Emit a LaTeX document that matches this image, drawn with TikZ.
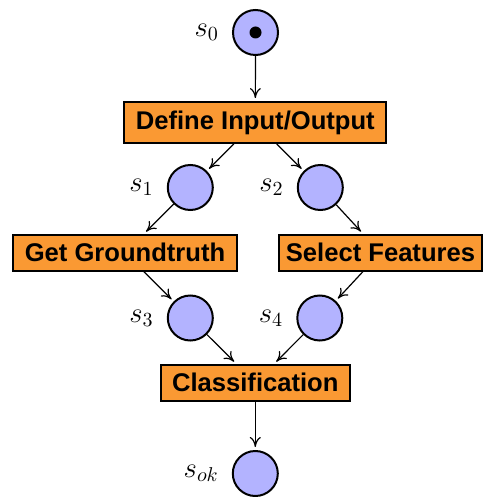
\documentclass[tikz,border=0pt]{standalone}
\usepackage{fontspec}
\setsansfont{Liberation Sans}
\usetikzlibrary{arrows.meta}
\definecolor{boxorange}{RGB}{250,153,51}
\definecolor{placeblue}{RGB}{179,179,255}
\tikzset{
  place/.style={circle, draw=black, line width=1pt, fill=placeblue, minimum size=22.5pt, inner sep=0pt},
  trans/.style={rectangle, draw=black, line width=1pt, fill=boxorange, inner xsep=5.75pt, inner ysep=4.25pt,
    font=\sffamily\bfseries\fontsize{12.8}{15}\selectfont},
  slabel/.style={label distance=3pt, font=\fontsize{14.5}{17}\selectfont},
  flow/.style={-{To[length=5pt,width=5.5pt]}, line width=0.6pt, shorten >=1.5pt},
  token/.style={circle, fill=black, minimum size=6pt, inner sep=0pt}
}
\begin{document}
\begin{tikzpicture}[x=0.5pt, y=-0.5pt]
\useasboundingbox (0,0) rectangle (484,497);
\node[place, label={[slabel]left:$s_0$}] (s0) at (255.5,32.5) {};
\node[token] (tok) at (s0) {};
\node[trans] (def) at (255.3,122.5) {Define Input/Output};
\node[place, label={[slabel]left:$s_1$}] (s1) at (190.3,187.5) {};
\node[place, label={[slabel]left:$s_2$}] (s2) at (320.3,187.5) {};
\node[trans] (gt) at (125,252.7) {Get Groundtruth};
\node[trans, inner xsep=3.2pt] (sf) at (380.5,252.7) {Select Features};
\node[place, label={[slabel]left:$s_3$}] (s3) at (190.3,318) {};
\node[place, label={[slabel]left:$s_4$}] (s4) at (319.8,318) {};
\node[trans] (cls) at (255.3,382.7) {Classification};
\node[place, label={[slabel]left:$s_{ok}$}] (sok) at (255.3,473.5) {};
\draw[flow] (s0) -- (def);
\draw[flow] (def) -- (s1);
\draw[flow] (def) -- (s2);
\draw[flow] (s1) -- (gt);
\draw[flow] (s2) -- (sf);
\draw[flow] (gt) -- (s3);
\draw[flow] (sf) -- (s4);
\draw[flow] (s3) -- (cls);
\draw[flow] (s4) -- (cls);
\draw[flow] (cls) -- (sok);
\end{tikzpicture}
\end{document}
